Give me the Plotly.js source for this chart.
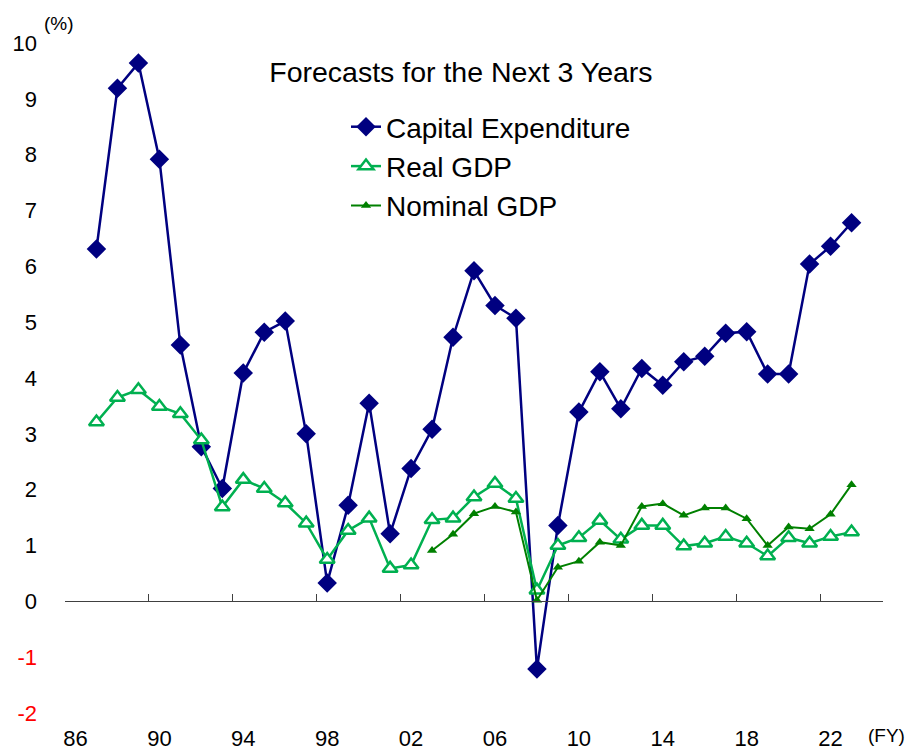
<!DOCTYPE html>
<html>
<head>
<meta charset="utf-8">
<script src="https://cdn.plot.ly/plotly-3.0.1.min.js"></script>
<style>
html,body{margin:0;padding:0;background:#fff;}
#chart{width:909px;height:752px;}
</style>
</head>
<body>
<div id="chart"></div>
<script>
// Fiscal years
const years = [1987,1988,1989,1990,1991,1992,1993,1994,1995,1996,1997,1998,1999,2000,2001,2002,2003,2004,2005,2006,2007,2008,2009,2010,2011,2012,2013,2014,2015,2016,2017,2018,2019,2020,2021,2022,2023];
const capitalExpenditure = [6.31,9.19,9.64,7.92,4.59,2.77,2.02,4.09,4.82,5.02,3.00,0.33,1.72,3.55,1.21,2.38,3.08,4.73,5.92,5.30,5.07,-1.21,1.36,3.39,4.11,3.45,4.17,3.87,4.29,4.39,4.80,4.83,4.07,4.07,6.04,6.36,6.78];
const realGDP = [3.21,3.65,3.79,3.49,3.36,2.89,1.69,2.18,2.02,1.76,1.40,0.75,1.27,1.49,0.59,0.65,1.46,1.49,1.87,2.11,1.84,0.20,1.00,1.14,1.45,1.11,1.36,1.36,0.99,1.04,1.16,1.04,0.81,1.14,1.04,1.16,1.24];
const nominalYears = [2003,2004,2005,2006,2007,2008,2009,2010,2011,2012,2013,2014,2015,2016,2017,2018,2019,2020,2021,2022,2023];
const nominalGDP = [0.91,1.20,1.57,1.70,1.60,0.02,0.61,0.72,1.06,1.00,1.70,1.75,1.54,1.67,1.67,1.48,1.00,1.33,1.30,1.56,2.09];

// Axis labels
const xTickYears = [1986,1990,1994,1998,2002,2006,2010,2014,2018,2022];
const xTickText = ['86','90','94','98','02','06','10','14','18','22'];
const xBoundaryTicks = [1985.5,1989.5,1993.5,1997.5,2001.5,2005.5,2009.5,2013.5,2017.5,2021.5];
const yTickVals = [-2,-1,0,1,2,3,4,5,6,7,8,9,10];
const yTickText = yTickVals.map(v => v < 0 ? '<span style="color:#ff0000">' + v + '</span>' : String(v));

const FONT = 'Liberation Sans, Arial, sans-serif';
const xRange = [1985.5, 2024.5];

const traces = [
  {
    x: years, y: capitalExpenditure, name: 'Capital Expenditure',
    type: 'scatter', mode: 'lines+markers',
    line: {color: '#000080', width: 2.5},
    marker: {symbol: 'diamond', size: 15, color: '#000080'}
  },
  {
    x: years, y: realGDP, name: 'Real GDP',
    type: 'scatter', mode: 'lines+markers',
    line: {color: '#00B050', width: 2.5},
    marker: {symbol: 'triangle-up', size: 13, color: '#ffffff', line: {color: '#00B050', width: 2.5}}
  },
  {
    x: nominalYears, y: nominalGDP, name: 'Nominal GDP',
    type: 'scatter', mode: 'lines+markers',
    line: {color: '#008000', width: 2},
    marker: {symbol: 'triangle-up', size: 9, color: '#008000'}
  },
  {
    x: [], y: [], xaxis: 'x2', showlegend: false, hoverinfo: 'skip', type: 'scatter', mode: 'markers'
  }
];

const layout = {
  width: 909, height: 752,
  margin: {l: 65, r: 26, t: 43, b: 39, pad: 0, autoexpand: false},
  paper_bgcolor: '#ffffff', plot_bgcolor: '#ffffff',
  font: {family: FONT, color: '#000000', size: 22},
  showlegend: true,
  title: {
    text: 'Forecasts for the Next 3 Years',
    font: {family: FONT, size: 28.5, color: '#000000'},
    xref: 'paper', x: 0.484, xanchor: 'center',
    yref: 'container', y: 1 - 72/752, yanchor: 'middle'
  },
  legend: {
    xref: 'paper', yref: 'paper',
    x: (346 - 65)/818, y: (713 - 102)/670, xanchor: 'left', yanchor: 'top',
    font: {family: FONT, size: 28, color: '#000000'},
    bgcolor: 'rgba(0,0,0,0)', borderwidth: 0,
    tracegroupgap: 0
  },
  xaxis: {
    range: xRange, anchor: 'free', position: 2/12,
    showline: true, linecolor: '#404040', linewidth: 1,
    ticks: 'inside', ticklen: 7, tickwidth: 1, tickcolor: '#404040',
    tickmode: 'array', tickvals: xBoundaryTicks,
    showticklabels: false, showgrid: false, zeroline: false, fixedrange: true
  },
  xaxis2: {
    range: xRange, overlaying: 'x', anchor: 'y', side: 'bottom',
    showline: false, ticks: '', showgrid: false, zeroline: false,
    tickmode: 'array', tickvals: xTickYears, ticktext: xTickText,
    tickfont: {family: FONT, size: 22, color: '#000000'},
    ticklabelstandoff: 10
  },
  yaxis: {
    range: [-2, 10], showline: false, showgrid: false, zeroline: false,
    ticks: '', tickmode: 'array', tickvals: yTickVals, ticktext: yTickText,
    tickfont: {family: FONT, size: 22, color: '#000000'},
    ticklabelstandoff: 27
  },
  annotations: [
    {text: '(%)', xref: 'paper', yref: 'paper', x: (59 - 65)/818, y: (713 - 24)/670,
     xanchor: 'center', yanchor: 'middle', showarrow: false,
     font: {family: FONT, size: 19, color: '#000000'}},
    {text: '(FY)', xref: 'paper', yref: 'paper', x: (886 - 65)/818, y: (713 - 735)/670,
     xanchor: 'center', yanchor: 'middle', showarrow: false,
     font: {family: FONT, size: 19, color: '#000000'}}
  ]
};

Plotly.newPlot('chart', traces, layout, {displayModeBar: false, staticPlot: true});
</script>
</body>
</html>
